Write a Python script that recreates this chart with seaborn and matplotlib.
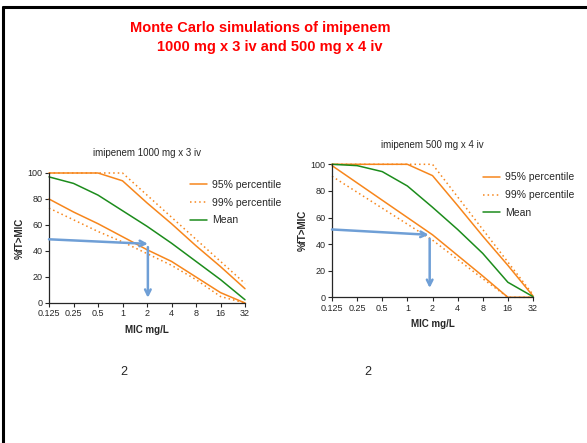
import numpy as np
import pandas as pd
import matplotlib
matplotlib.use("Agg")
import matplotlib.pyplot as plt
import seaborn as sns

# MIC values (mg/L) on the x axis
mic = [0.125, 0.25, 0.5, 1, 2, 4, 8, 16, 32]
mic_labels = ["0.125", "0.25", "0.5", "1", "2", "4", "8", "16", "32"]

# imipenem 1000 mg x 3 iv  (%fT>MIC)
a_p95_hi = [100, 100, 100, 94, 77, 61, 44, 28, 11]
a_p95_lo = [80, 70, 61, 51, 41, 32, 20, 8, 0]
a_p99_hi = [100, 100, 100, 100, 83, 66, 49, 32, 15]
a_p99_lo = [73, 64, 55, 47, 38, 29, 18, 5, 0]
a_mean = [97, 92, 83, 71, 59, 46, 32, 18, 2.5]

# imipenem 500 mg x 4 iv
b_p95_hi = [100, 100, 100, 100, 91.5, 69, 46, 24, 1]
b_p95_lo = [99, 86, 73, 60, 47, 31.5, 16, 0, 0]
b_p99_hi = [100, 100, 100, 100, 100, 75.5, 51, 26.5, 2]
b_p99_lo = [91, 79, 67, 55, 43, 28.5, 14, 0, 0]
b_mean = [100, 99, 94.5, 83.7, 67.7, 51, 33, 11.3, 0.5]

# blue arrows: (x_start, y_start, x_end, y_end)
a_arrows = [(0.125, 49, 2.05, 45.5), (2.05, 43, 2.05, 4)]
b_arrows = [(0.125, 51, 1.8, 47), (1.85, 44, 1.85, 7)]

series_order = ["95% percentile", "99% percentile", "Mean"]
orange = "#f7861c"
green = "#1c8c1c"
blue = "#6f9fd6"


def make_df(p95_hi, p95_lo, p99_hi, p99_lo, mean):
    parts = []
    for name, unit, vals in [("95% percentile", "hi", p95_hi),
                             ("95% percentile", "lo", p95_lo),
                             ("99% percentile", "hi", p99_hi),
                             ("99% percentile", "lo", p99_lo),
                             ("Mean", "m", mean)]:
        parts.append(pd.DataFrame({"mic": mic, "ft": vals,
                                   "series": name, "bound": unit}))
    return pd.concat(parts, ignore_index=True)


df_a = make_df(a_p95_hi, a_p95_lo, a_p99_hi, a_p99_lo, a_mean)
df_b = make_df(b_p95_hi, b_p95_lo, b_p99_hi, b_p99_lo, b_mean)

sns.set_style("ticks")
plt.rcParams["font.family"] = ["Liberation Sans", "DejaVu Sans"]

fig = plt.figure(figsize=(5.87, 4.43), dpi=100)

# slide frame lines (top and left)
fig.add_artist(plt.Line2D([2.5 / 587, 1], [1 - 6.5 / 443] * 2, color="black", lw=2.2))
fig.add_artist(plt.Line2D([2.5 / 587] * 2, [0, 1 - 6.5 / 443], color="black", lw=2.2))

fig.text(260 / 587, 1 - 28 / 443, "Monte Carlo simulations of imipenem",
         color="red", fontsize=10.5, fontweight="bold", ha="center", va="center")
fig.text(270 / 587, 1 - 47 / 443, "1000 mg x 3 iv and 500 mg x 4 iv",
         color="red", fontsize=10.5, fontweight="bold", ha="center", va="center")

ax1 = fig.add_axes([49 / 587, 1 - 303 / 443, 196 / 587, 130 / 443])
ax2 = fig.add_axes([332 / 587, 1 - 297.3 / 443, 201 / 587, 133 / 443])

panels = [(ax1, df_a, a_arrows, "imipenem 1000 mg x 3 iv", (0.70, 0.98)),
          (ax2, df_b, b_arrows, "imipenem 500 mg x 4 iv", (0.73, 0.97))]

for ax, d, arrows, title, leg_pos in panels:
    sns.lineplot(data=d, x="mic", y="ft", hue="series", style="series",
                 units="bound", estimator=None, hue_order=series_order,
                 style_order=series_order,
                 palette={"95% percentile": orange, "99% percentile": orange,
                          "Mean": green},
                 dashes={"95% percentile": "", "99% percentile": (1, 2),
                         "Mean": ""},
                 linewidth=1.1, ax=ax)
    for ln in ax.get_lines():
        ln.set_clip_on(False)
    for x0, y0, x1, y1 in arrows:
        ax.annotate("", xy=(x1, y1), xytext=(x0, y0),
                    arrowprops=dict(arrowstyle="->", color=blue, lw=1.8,
                                    mutation_scale=10, shrinkA=0, shrinkB=0))
    ax.set_xscale("log", base=2)
    ax.set_xlim(0.125, 32)
    ax.set_ylim(0, 100)
    ax.set_xticks(mic)
    ax.set_xticklabels(mic_labels)
    ax.minorticks_off()
    ax.set_yticks([0, 20, 40, 60, 80, 100])
    ax.tick_params(labelsize=6.5, length=3, width=0.8, pad=1.5)
    ax.set_xlabel("MIC mg/L", fontsize=7, fontweight="bold", labelpad=5)
    ax.set_ylabel("%fT>MIC", fontsize=7, fontweight="bold", labelpad=2)
    ax.set_title(title, fontsize=7, pad=12)
    for s in ["left", "bottom"]:
        ax.spines[s].set_linewidth(0.9)
    sns.despine(ax=ax)
    ax.legend(loc="upper left", bbox_to_anchor=leg_pos, frameon=False,
              fontsize=7.5, handlelength=1.6, labelspacing=0.75,
              handletextpad=0.5, borderaxespad=0)

fig.text(124 / 587, 1 - 372 / 443, "2", fontsize=9, ha="center", va="center")
fig.text(368 / 587, 1 - 372 / 443, "2", fontsize=9, ha="center", va="center")

fig.savefig("out.png", dpi=100)
